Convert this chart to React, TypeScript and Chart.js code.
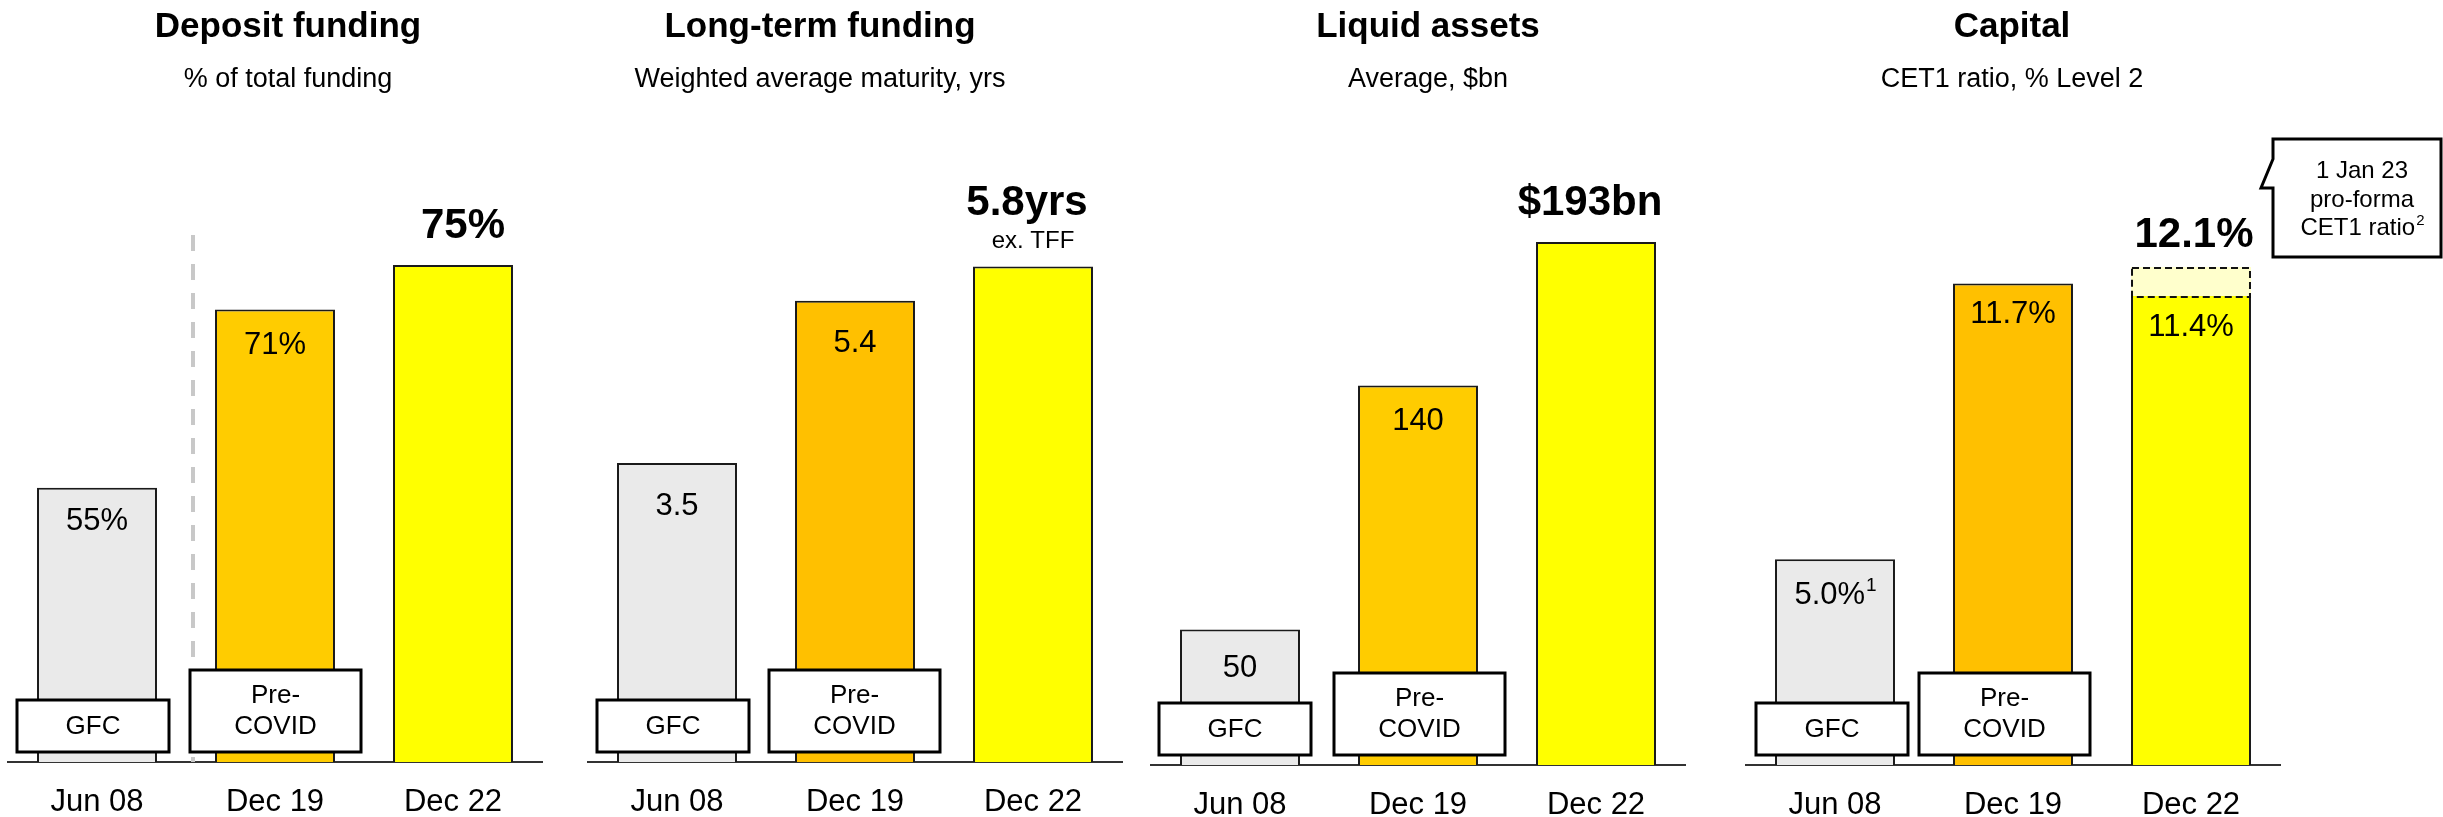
import React, { useEffect, useRef } from "react";
import { Chart, registerables } from "chart.js";

Chart.register(...registerables);

const FONT = "'Liberation Sans', Arial, Helvetica, sans-serif";

// ---------- data ----------
const categories = ["Jun 08", "Dec 19", "Dec 22"];
const periodTags = [["GFC"], ["Pre-", "COVID"]];

const depositShare = [55, 71, 75];
const depositText = ["55%", "71%", "75%"];

const maturityYrs = [3.5, 5.4, 5.8];
const maturityText = ["3.5", "5.4", "5.8yrs"];
const maturityNote = "ex. TFF";

const liquidBn = [50, 140, 193];
const liquidText = ["50", "140", "$193bn"];

const cet1Reported = [5.0, 11.7, 11.4];
const cet1Text = ["5.0%", "11.7%", "11.4%"];
const cet1Sup = ["1", "", ""];
const cet1ProForma: (number[] | null)[] = [null, null, [11.4, 12.1]];
const cet1ProFormaText = "12.1%";
const calloutLines = ["1 Jan 23", "pro-forma", "CET1 ratio"];
const calloutSup = "2";

// ---------- styles ----------
const GREY = "#EAEAEA";
const AMBER = "#FFCC00";
const ORANGE = "#FFC000";
const YELLOW = "#FFFF00";
const PALE = "#FFFFCC";
const EDGE = "#1a1a1a";

type PanelCfg = {
  id: string;
  left: number;
  width: number;
  padL: number;
  padR: number;
  baseline: number;
  yMin: number;
  yMax: number;
  title: string;
  subtitle: string;
  titleX: number;
  values: number[];
  colors: string[];
  texts: string[];
  sups?: string[];
  insideDy: number[];
  insideCount: number;
  bigDy: number;
  bigDx: number;
  note?: string;
  divider?: boolean;
  proForma?: boolean;
  tagDx: number[];
};

const panels: PanelCfg[] = [
  {
    id: "deposit", left: 0, width: 580, padL: 8, padR: 38, baseline: 762,
    yMin: 30.4, yMax: 89.8,
    title: "Deposit funding", subtitle: "% of total funding", titleX: 288,
    values: depositShare, colors: [GREY, AMBER, YELLOW], texts: depositText,
    insideDy: [34, 36], insideCount: 2, bigDy: -39, bigDx: 10,
    divider: true, tagDx: [-80, -85],
  },
  {
    id: "ltf", left: 575, width: 575, padL: 13, padR: 28, baseline: 762,
    yMin: 0, yMax: 7.75,
    title: "Long-term funding", subtitle: "Weighted average maturity, yrs", titleX: 820,
    values: maturityYrs, colors: [GREY, ORANGE, YELLOW], texts: maturityText,
    insideDy: [43, 43], insideCount: 2, bigDy: -63, bigDx: -6, note: maturityNote,
    tagDx: [-80, -86],
  },
  {
    id: "liquid", left: 1140, width: 590, padL: 11, padR: 45, baseline: 765,
    yMin: 0, yMax: 245.4,
    title: "Liquid assets", subtitle: "Average, $bn", titleX: 1428,
    values: liquidBn, colors: [GREY, AMBER, YELLOW], texts: liquidText,
    insideDy: [39, 36], insideCount: 2, bigDy: -39, bigDx: -6,
    tagDx: [-81, -84],
  },
  {
    id: "capital", left: 1730, width: 713, padL: 16, padR: 163, baseline: 765,
    yMin: 0, yMax: 16.16,
    title: "Capital", subtitle: "CET1 ratio, % Level 2", titleX: 2012,
    values: cet1Reported, colors: [GREY, ORANGE, YELLOW], texts: cet1Text, sups: cet1Sup,
    insideDy: [36, 31, 32], insideCount: 3, bigDy: -32, bigDx: 3, proForma: true,
    tagDx: [-79, -94],
  },
];

function makeDecor(cfg: PanelCfg) {
  return {
    id: "decor_" + cfg.id,
    afterDatasetsDraw(chart: any) {
      const ctx: CanvasRenderingContext2D = chart.ctx;
      const xs = chart.scales.x;
      const base = chart.chartArea.bottom;
      const meta = chart.getDatasetMeta(0);
      const off = cfg.left;
      ctx.save();
      ctx.fillStyle = "#000";
      ctx.textAlign = "center";
      ctx.textBaseline = "middle";

      // titles
      ctx.font = `bold 35px ${FONT}`;
      ctx.fillText(cfg.title, cfg.titleX - off, 27);
      ctx.font = `27px ${FONT}`;
      ctx.fillText(cfg.subtitle, cfg.titleX - off, 80);

      // divider between GFC and later periods
      if (cfg.divider) {
        const x = (xs.getPixelForValue(0) + xs.getPixelForValue(1)) / 2 + 7;
        ctx.strokeStyle = "#C8C8C8";
        ctx.lineWidth = 4;
        ctx.setLineDash([16, 13]);
        ctx.beginPath();
        ctx.moveTo(x, 235);
        ctx.lineTo(x, base);
        ctx.stroke();
        ctx.setLineDash([]);
      }

      // pro-forma dashed outline
      let topY = meta.data[2].y;
      if (cfg.proForma) {
        const el: any = chart.getDatasetMeta(1).data[2];
        const p = el.getProps(["x", "y", "base", "width"], true);
        ctx.strokeStyle = "#111";
        ctx.lineWidth = 2;
        ctx.setLineDash([7, 4]);
        ctx.strokeRect(p.x - p.width / 2 + 1, p.y + 1, p.width - 2, p.base - p.y);
        ctx.setLineDash([]);
        topY = p.y;
      }

      // inside value labels
      for (let i = 0; i < cfg.insideCount; i++) {
        const el: any = meta.data[i];
        const cx = el.x;
        const y = el.y + cfg.insideDy[i];
        const sup = cfg.sups ? cfg.sups[i] : "";
        ctx.font = `31px ${FONT}`;
        if (sup) {
          const w1 = ctx.measureText(cfg.texts[i]).width;
          ctx.font = `19px ${FONT}`;
          const w2 = ctx.measureText(sup).width;
          const x0 = cx - (w1 + w2) / 2;
          ctx.textAlign = "left";
          ctx.font = `31px ${FONT}`;
          ctx.fillText(cfg.texts[i], x0, y);
          ctx.font = `19px ${FONT}`;
          ctx.fillText(sup, x0 + w1 + 1, y - 9);
          ctx.textAlign = "center";
        } else {
          ctx.fillText(cfg.texts[i], cx, y);
        }
      }

      // headline label above latest bar
      const lastX = meta.data[2].x;
      ctx.font = `bold 42px ${FONT}`;
      ctx.fillText(cfg.proForma ? cet1ProFormaText : cfg.texts[2], lastX + cfg.bigDx, topY + cfg.bigDy);
      if (cfg.note) {
        ctx.font = `24px ${FONT}`;
        ctx.fillText(cfg.note, lastX, topY - 25);
      }

      // period tags
      ctx.lineWidth = 3;
      ctx.strokeStyle = "#000";
      for (let i = 0; i < periodTags.length; i++) {
        const cx = meta.data[i].x;
        const lines = periodTags[i];
        const h = lines.length > 1 ? 82 : 52;
        const w = lines.length > 1 ? 171 : 152;
        const x = cx + cfg.tagDx[i];
        const bottom = base - 10;
        const top = bottom - h;
        ctx.fillStyle = "#fff";
        ctx.fillRect(x, top, w, h);
        ctx.strokeRect(x, top, w, h);
        ctx.fillStyle = "#000";
        ctx.font = `26px ${FONT}`;
        const mid = (top + bottom) / 2;
        const tx = x + w / 2;
        if (lines.length === 1) ctx.fillText(lines[0], tx, mid + 1);
        else {
          ctx.fillText(lines[0], tx, mid - 15);
          ctx.fillText(lines[1], tx, mid + 16);
        }
      }

      // callout
      if (cfg.proForma) {
        const L = 2273 - off, R = 2441 - off, T = 139, B = 257;
        ctx.beginPath();
        ctx.moveTo(L, T);
        ctx.lineTo(R, T);
        ctx.lineTo(R, B);
        ctx.lineTo(L, B);
        ctx.lineTo(L, 188);
        ctx.lineTo(2261 - off, 188);
        ctx.lineTo(L, 159);
        ctx.closePath();
        ctx.fillStyle = "#fff";
        ctx.fill();
        ctx.lineWidth = 3;
        ctx.strokeStyle = "#000";
        ctx.stroke();
        ctx.fillStyle = "#000";
        ctx.font = `24px ${FONT}`;
        const cx = 2362 - off;
        ctx.fillText(calloutLines[0], cx, 171);
        ctx.fillText(calloutLines[1], cx, 200);
        const w1 = ctx.measureText(calloutLines[2]).width;
        ctx.font = `15px ${FONT}`;
        const w2 = ctx.measureText(calloutSup).width;
        const x0 = cx - (w1 + w2) / 2;
        ctx.textAlign = "left";
        ctx.font = `24px ${FONT}`;
        ctx.fillText(calloutLines[2], x0, 228);
        ctx.font = `15px ${FONT}`;
        ctx.fillText(calloutSup, x0 + w1 + 1, 221);
      }
      ctx.restore();
    },
  };
}

function buildConfig(cfg: PanelCfg): any {
  const datasets: any[] = [
    {
      data: cfg.values,
      backgroundColor: cfg.colors,
      borderColor: EDGE,
      borderWidth: cfg.proForma ? [2, 2, { top: 0, left: 2, right: 2, bottom: 0 }] : 2,
      barPercentage: 0.674,
      categoryPercentage: 1,
    },
  ];
  if (cfg.proForma) {
    datasets.push({
      data: cet1ProForma,
      backgroundColor: PALE,
      borderWidth: 0,
      barPercentage: 0.674,
      categoryPercentage: 1,
    });
  }
  const axisHeight = 817 - cfg.baseline;
  return {
    type: "bar",
    data: { labels: categories, datasets },
    options: {
      responsive: false,
      animation: false,
      devicePixelRatio: 1,
      layout: { padding: { top: 100, left: cfg.padL, right: cfg.padR, bottom: 0 } },
      plugins: {
        legend: { display: false },
        tooltip: { enabled: false },
        title: { display: false },
      },
      scales: {
        x: {
          stacked: true,
          grid: { display: false, drawTicks: false },
          border: { display: true, color: "#333", width: 2 },
          ticks: {
            color: "#000",
            font: { family: FONT, size: 31 },
            padding: 22,
            maxRotation: 0,
            autoSkip: false,
          },
          afterFit: (s: any) => {
            s.height = axisHeight;
          },
        },
        y: { display: false, stacked: false, min: cfg.yMin, max: cfg.yMax },
      },
    },
    plugins: [makeDecor(cfg)],
  };
}

function PanelChart({ cfg }: { cfg: PanelCfg }) {
  const ref = useRef<HTMLCanvasElement>(null);
  useEffect(() => {
    if (!ref.current) return;
    const chart = new Chart(ref.current, buildConfig(cfg));
    return () => chart.destroy();
  }, [cfg]);
  return (
    <canvas
      ref={ref}
      width={cfg.width}
      height={817}
      style={{ position: "absolute", left: cfg.left, top: 0, width: cfg.width, height: 817 }}
    />
  );
}

export default function App() {
  return (
    <div style={{ position: "absolute", left: 0, top: 0, width: 2443, height: 817, background: "#fff", overflow: "hidden" }}>
      {panels.map((p) => (
        <PanelChart key={p.id} cfg={p} />
      ))}
    </div>
  );
}
